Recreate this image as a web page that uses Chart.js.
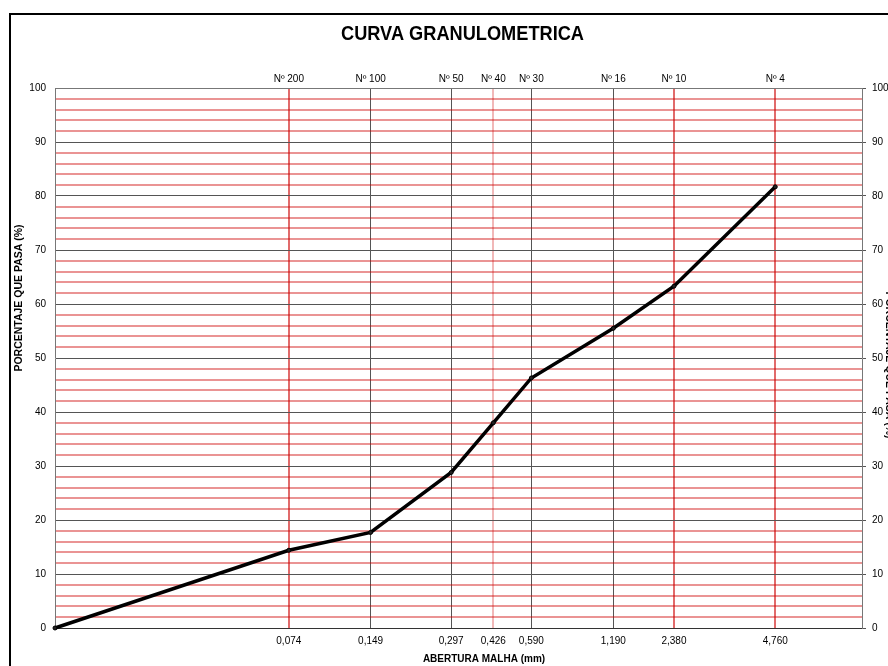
<!DOCTYPE html>
<html><head><meta charset="utf-8">
<script src="https://cdn.jsdelivr.net/npm/chart.js@4/dist/chart.umd.min.js"></script>
<style>html,body{margin:0;padding:0;background:#fff;overflow:hidden}</style>
</head><body>
<canvas id="c" width="888" height="666" style="display:block;width:888px;height:666px"></canvas>
<script>
const chartTitle = 'CURVA GRANULOMETRICA';
const xAxisTitle = 'ABERTURA MALHA (mm)';
const yAxisTitle = 'PORCENTAJE QUE PASA (%)';
const sieveNames = ['Nº 200','Nº 100','Nº 50','Nº 40','Nº 30','Nº 16','Nº 10','Nº 4'];
const openingLabels = ['0,074','0,149','0,297','0,426','0,590','1,190','2,380','4,760'];
// positions of the sieve lines (Nº 10 is drawn at 2.0 on the log axis)
const sievePositions = [0.074,0.149,0.297,0.426,0.590,1.190,2.000,4.760];
const sieveLineKinds = ['red','dark','dark','pale','dark','dark','red','red'];
const curveX = [0.01,0.074,0.149,0.297,0.426,0.590,1.190,2.000,4.760];
const curveY = [0,14.4,17.7,28.8,38.0,46.3,55.5,63.3,81.7];
const yLabelValues = [0,10,20,30,40,50,60,70,80,90,100];
const yMinorStep = 2;

const FONT = "'Liberation Sans', Arial, sans-serif";
const RED = 'rgba(204,0,0,0.42)';
const DARK = '#555555';
const kindColor = {red:'rgba(204,0,0,0.58)', dark:'#555555', pale:'rgba(204,0,0,0.28)'};
const kindWidth = {red:2, dark:1, pale:2};

const frameTitles = {
  id:'frameTitles',
  beforeDraw(chart){
    const c = chart.ctx;
    c.save();
    c.fillStyle = '#fff';
    c.fillRect(0,0,chart.width,chart.height);
    c.strokeStyle = '#000';
    c.lineWidth = 2;
    c.beginPath();
    c.moveTo(10,chart.height+2); c.lineTo(10,14); c.lineTo(chart.width+2,14);
    c.stroke();
    c.restore();
  },
  afterDraw(chart){
    const c = chart.ctx, a = chart.chartArea;
    c.save();
    c.fillStyle = '#000';
    c.textAlign = 'center';
    c.textBaseline = 'middle';
    c.save();
    c.translate((a.left+a.right)/2 + 4, 34);
    c.scale(0.91,1);
    c.font = 'bold 20px ' + FONT;
    c.fillText(chartTitle,0,0);
    c.restore();
    c.font = 'bold 10px ' + FONT;
    c.fillText(xAxisTitle, 484, 659);
    c.save();
    c.translate(19, 298);
    c.rotate(-Math.PI/2);
    c.font = 'bold 10.5px ' + FONT;
    c.fillText(yAxisTitle,0,0);
    c.restore();
    c.save();
    c.translate(889, 365);
    c.rotate(Math.PI/2);
    c.font = 'bold 10.5px ' + FONT;
    c.fillText(yAxisTitle,0,0);
    c.restore();
    c.restore();
  }
};

const setSieveTicks = s => { s.ticks = sievePositions.map(v => ({value:v})); };
const setYTicks = s => {
  const t = [];
  for (let v = s.min; v <= s.max + 1e-9; v += yMinorStep) t.push({value:v});
  s.ticks = t;
};
const sieveIndex = v => sievePositions.findIndex(p => Math.abs(p - v) < 1e-9);
const sieveKind = ctx => {
  const i = ctx.tick ? sieveIndex(ctx.tick.value) : -1;
  return i >= 0 ? sieveLineKinds[i] : 'dark';
};
const isMajor = v => yLabelValues.some(m => Math.abs(m - v) < 1e-9);
const tickMajor = ctx => ctx.tick && isMajor(ctx.tick.value);

new Chart(document.getElementById('c'), {
  type:'line',
  data:{
    datasets:[{
      data: curveX.map((x,i)=>({x:x,y:curveY[i]})),
      borderColor:'#000',
      borderWidth:3.5,
      pointRadius:2,
      pointBackgroundColor:'#222',
      pointBorderColor:'#000',
      pointBorderWidth:1,
      tension:0,
      clip:4
    }]
  },
  options:{
    responsive:false,
    animation:false,
    devicePixelRatio:1,
    layout:{padding:0},
    plugins:{legend:{display:false},tooltip:{enabled:false},title:{display:false}},
    scales:{
      x:{
        type:'logarithmic', position:'bottom', min:0.01, max:10,
        afterBuildTicks:setSieveTicks,
        afterFit:s=>{s.height=38;},
        grid:{drawTicks:false, lineWidth:ctx=>kindWidth[sieveKind(ctx)], color:ctx=>kindColor[sieveKind(ctx)]},
        border:{display:true,color:'#333',width:1},
        ticks:{autoSkip:false,maxRotation:0,minRotation:0,padding:7,color:'#000',font:{family:FONT,size:10},
          callback:(v,i)=>openingLabels[sieveIndex(v)]}
      },
      xTop:{
        type:'logarithmic', position:'top', min:0.01, max:10,
        afterBuildTicks:setSieveTicks,
        afterFit:s=>{s.height=88;},
        grid:{drawOnChartArea:false, drawTicks:false},
        border:{display:true,color:'#777',width:1},
        ticks:{autoSkip:false,maxRotation:0,minRotation:0,padding:3,color:'#000',font:{family:FONT,size:10},
          callback:(v,i)=>sieveNames[sieveIndex(v)]}
      },
      y:{
        type:'linear', position:'left', min:0, max:100,
        afterBuildTicks:setYTicks,
        afterFit:s=>{s.width=55;},
        grid:{drawTicks:false, lineWidth:ctx=> tickMajor(ctx) ? 1 : 2, color:ctx=> tickMajor(ctx) ? DARK : RED},
        border:{display:true,color:'#777',width:1},
        ticks:{autoSkip:false,padding:9,color:'#000',font:{family:FONT,size:10},
          callback:v=> isMajor(v) ? String(Math.round(v)) : ''}
      },
      yRight:{
        type:'linear', position:'right', min:0, max:100,
        afterBuildTicks:setYTicks,
        afterFit:s=>{s.width=26;},
        grid:{drawOnChartArea:false, drawTicks:true, tickLength:4,
          color:ctx=> tickMajor(ctx) ? DARK : 'rgba(0,0,0,0)'},
        border:{display:true,color:'#777',width:1},
        ticks:{autoSkip:false,padding:6,color:'#000',font:{family:FONT,size:10},
          callback:v=> isMajor(v) ? String(Math.round(v)) : ''}
      }
    }
  },
  plugins:[frameTitles]
});
</script>
</body></html>
